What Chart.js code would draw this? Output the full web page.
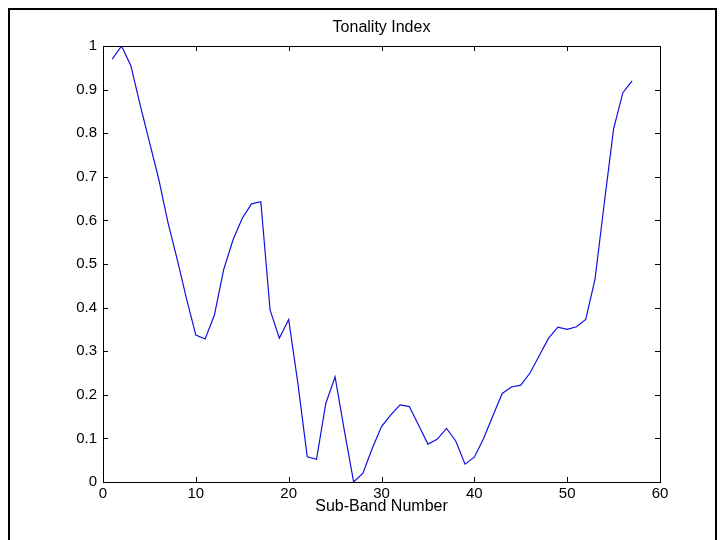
<!DOCTYPE html>
<html>
<head>
<meta charset="utf-8">
<script src="https://cdn.jsdelivr.net/npm/chart.js@4/dist/chart.umd.min.js"></script>
<style>
  html, body { margin: 0; padding: 0; background: #fff; }
  #wrap { width: 720px; height: 540px; }
</style>
</head>
<body>
<div id="wrap"><canvas id="toneChart" width="720" height="540"></canvas></div>
<script>
// sub-band numbers and tonality values
const subBands = [1, 2, 3, 4, 5, 6, 7, 8, 9, 10,
  11, 12, 13, 14, 15, 16, 17, 18, 19, 20,
  21, 22, 23, 24, 25, 26, 27, 28, 29, 30,
  31, 32, 33, 34, 35, 36, 37, 38, 39, 40,
  41, 42, 43, 44, 45, 46, 47, 48, 49, 50,
  51, 52, 53, 54, 55, 56, 57];
const tonality = [0.97, 1.0, 0.955, 0.865, 0.78, 0.695, 0.595, 0.51, 0.42, 0.337,
  0.328, 0.383, 0.487, 0.555, 0.605, 0.638, 0.643, 0.394, 0.33, 0.373,
  0.225, 0.058, 0.052, 0.18, 0.241, 0.118, 0.0, 0.02, 0.077, 0.127,
  0.154, 0.177, 0.173, 0.13, 0.087, 0.098, 0.123, 0.094, 0.041, 0.057,
  0.1, 0.152, 0.203, 0.218, 0.222, 0.25, 0.29, 0.33, 0.355, 0.35,
  0.356, 0.373, 0.465, 0.64, 0.81, 0.893, 0.92];
const xTicks = [0, 10, 20, 30, 40, 50, 60];
const yTicks = [0, 0.1, 0.2, 0.3, 0.4, 0.5, 0.6, 0.7, 0.8, 0.9, 1];
const chartTitle = 'Tonality Index';

const fontFam = '"Liberation Sans", Arial, sans-serif';

// title centred over the axes, box round them, inward ticks on every side, outer frame
const boxTicks = {
  id: 'boxTicks',
  afterDraw(chart) {
    const ctx = chart.ctx;
    const a = chart.chartArea;
    const xs = chart.scales.x, ys = chart.scales.y;
    ctx.save();
    ctx.fillStyle = '#000';
    ctx.font = '16px ' + fontFam;
    ctx.textAlign = 'center';
    ctx.textBaseline = 'middle';
    ctx.fillText(chartTitle, (a.left + a.right) / 2, 28);

    ctx.strokeStyle = '#000';
    ctx.lineWidth = 1;
    ctx.strokeRect(a.left + 0.5, a.top + 0.5, a.right - a.left, a.bottom - a.top);
    ctx.beginPath();
    xTicks.forEach(v => {
      const px = Math.round(xs.getPixelForValue(v)) + 0.5;
      ctx.moveTo(px, a.bottom); ctx.lineTo(px, a.bottom - 5);
      ctx.moveTo(px, a.top); ctx.lineTo(px, a.top + 5);
    });
    yTicks.forEach(v => {
      const py = Math.round(ys.getPixelForValue(v)) + 0.5;
      ctx.moveTo(a.left, py); ctx.lineTo(a.left + 5, py);
      ctx.moveTo(a.right, py); ctx.lineTo(a.right - 5, py);
    });
    ctx.stroke();
    ctx.lineWidth = 2;
    ctx.strokeRect(9, 9, 707, 540);
    ctx.restore();
  }
};

const el = document.getElementById('toneChart');
new Chart(el, {
  type: 'line',
  data: {
    datasets: [{
      data: subBands.map((b, i) => ({ x: b, y: tonality[i] })),
      borderColor: '#1010e0',
      borderWidth: 1.2,
      pointRadius: 0,
      tension: 0,
      fill: false
    }]
  },
  options: {
    responsive: false,
    animation: false,
    layout: { padding: { left: 0, right: 60, top: 46, bottom: 0 } },
    plugins: {
      legend: { display: false },
      tooltip: { enabled: false },
      title: { display: false }
    },
    scales: {
      x: {
        type: 'linear',
        min: 0,
        max: 60,
        afterBuildTicks: s => { s.ticks = xTicks.map(v => ({ value: v })); },
        afterFit: s => { s.height = 58; },
        grid: { display: false, drawTicks: false },
        border: { display: false },
        ticks: { color: '#000', padding: 3, font: { family: fontFam, size: 15 } },
        title: {
          display: true,
          text: 'Sub-Band Number',
          color: '#000',
          font: { family: fontFam, size: 16 },
          padding: { top: 0, bottom: 24 }
        }
      },
      y: {
        min: 0,
        max: 1,
        afterBuildTicks: s => { s.ticks = yTicks.map(v => ({ value: v })); },
        afterFit: s => { s.width = 103; },
        grid: { display: false, drawTicks: false },
        border: { display: false },
        ticks: {
          color: '#000',
          padding: 6,
          font: { family: fontFam, size: 15 },
          callback: v => String(Math.round(v * 10) / 10)
        }
      }
    }
  },
  plugins: [boxTicks]
});
</script>
</body>
</html>
